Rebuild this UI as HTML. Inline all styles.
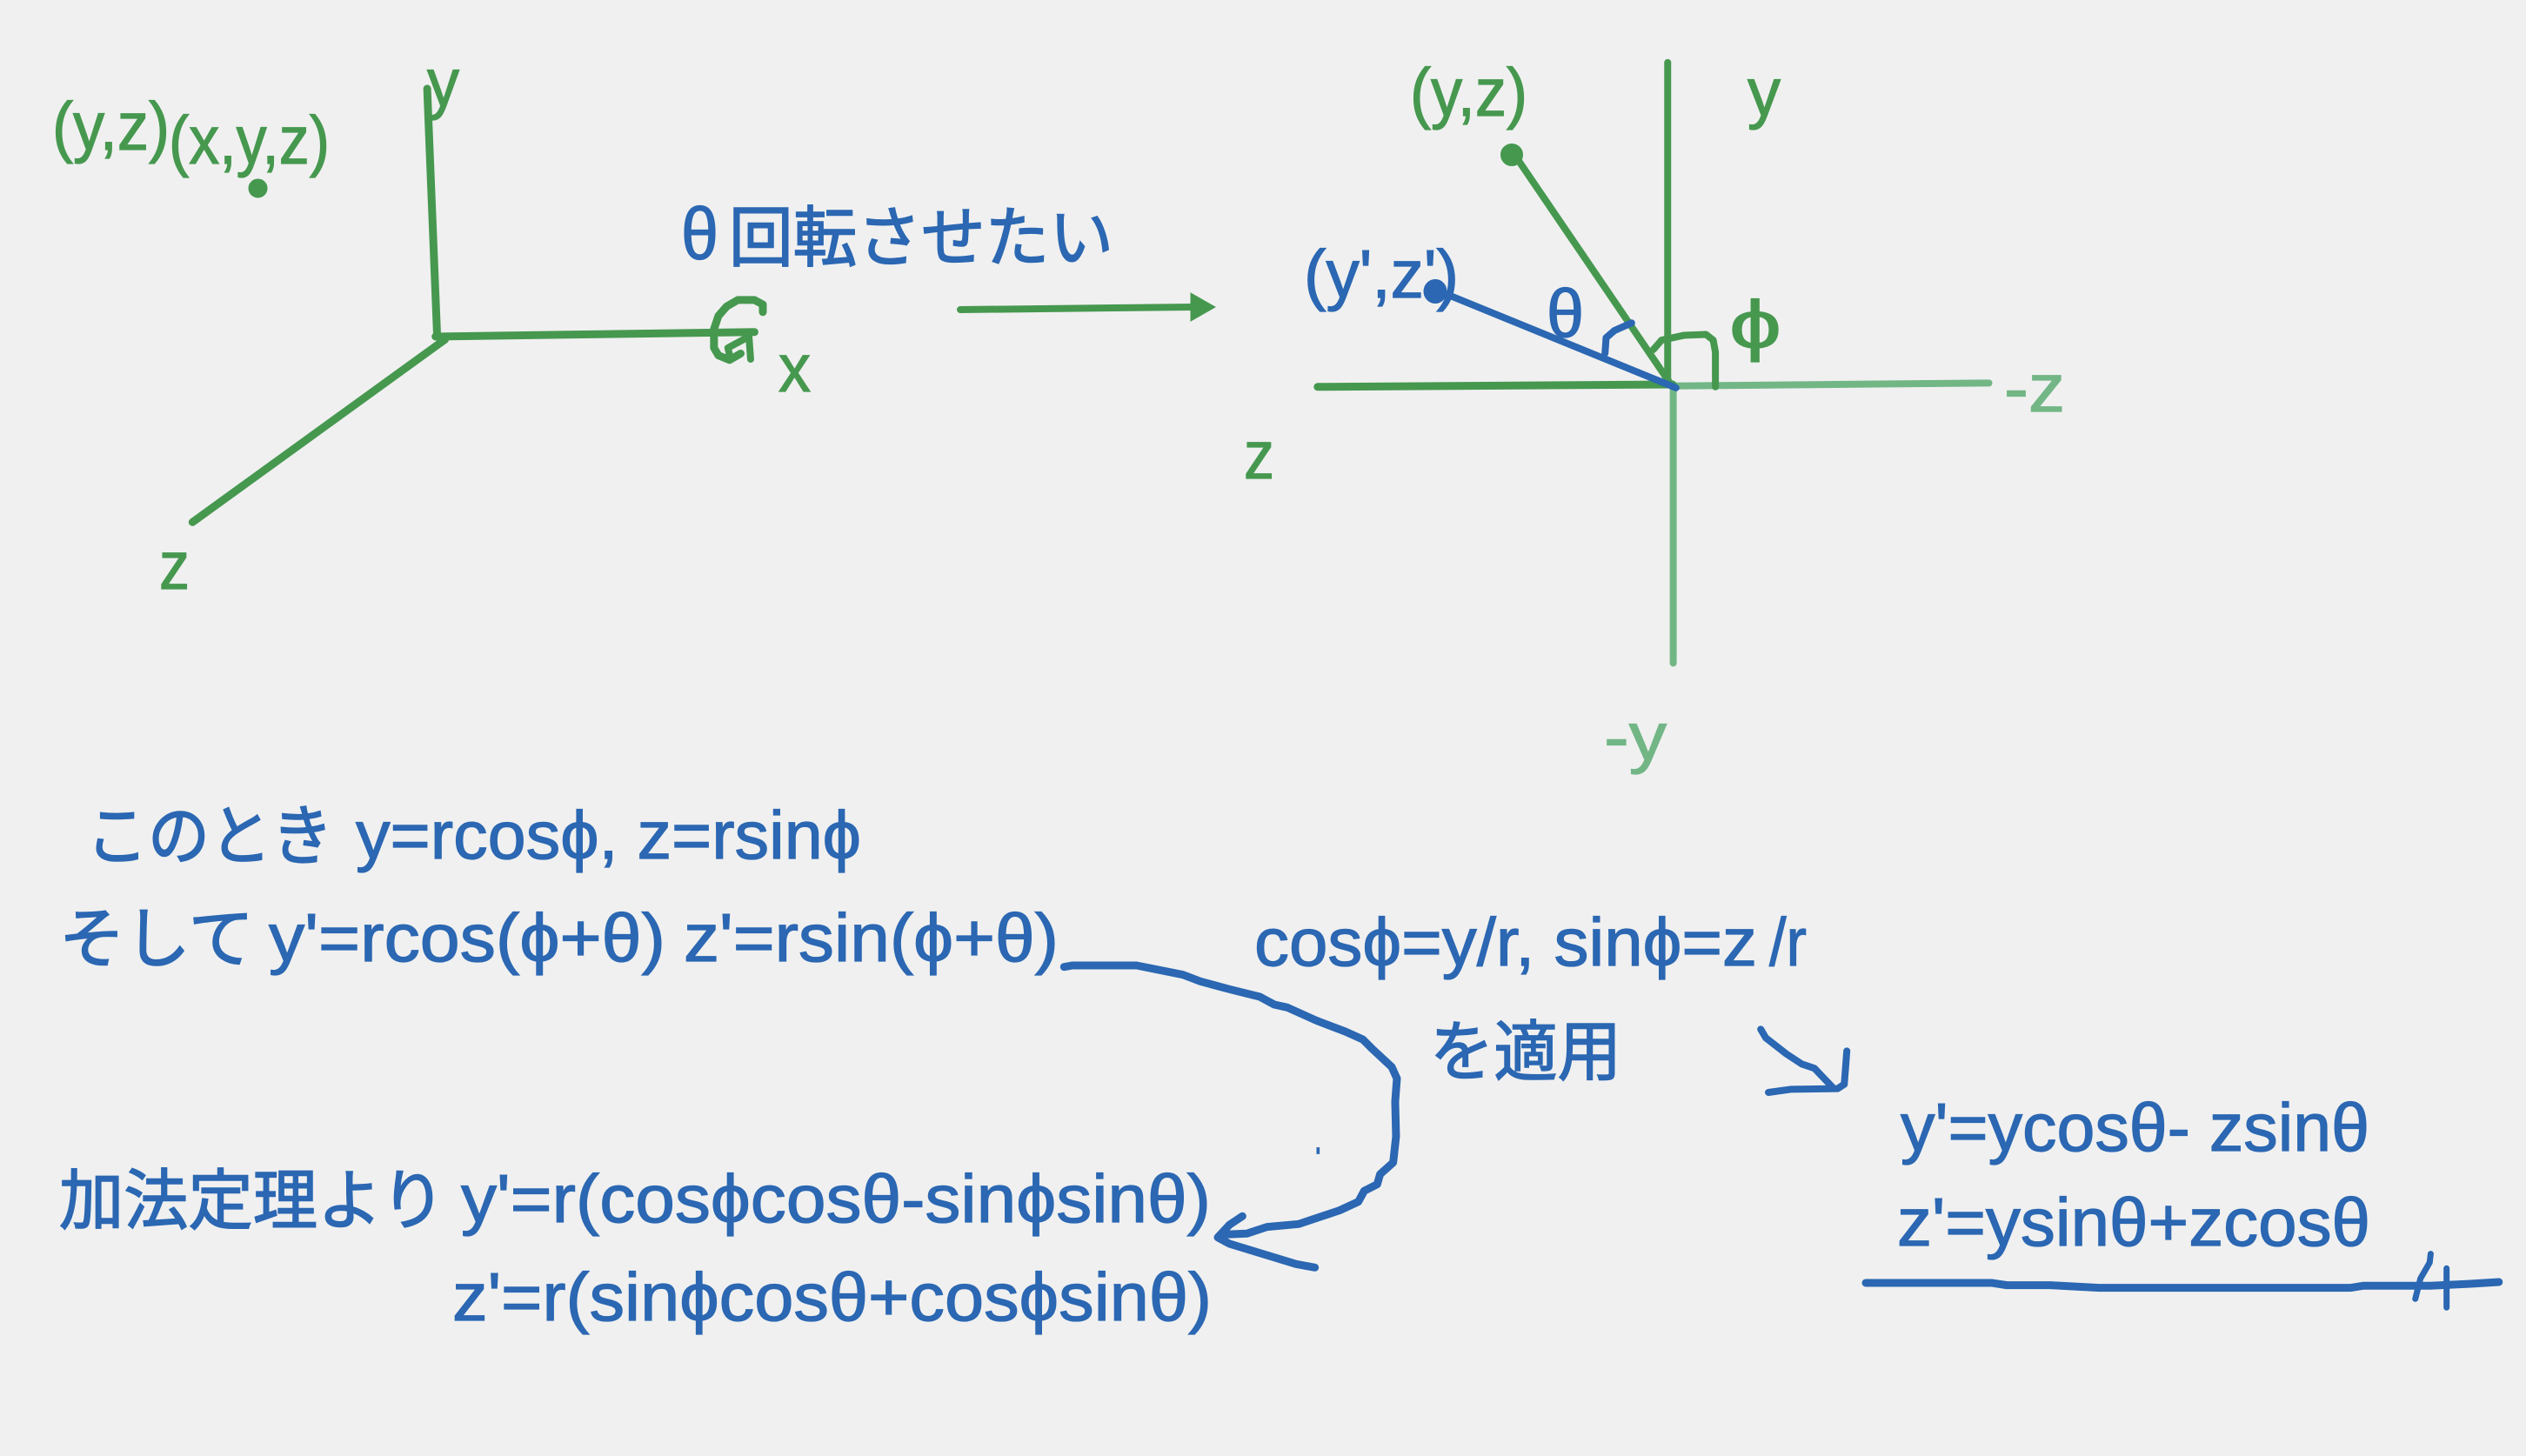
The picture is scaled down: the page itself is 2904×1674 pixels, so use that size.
<!DOCTYPE html>
<html><head><meta charset="utf-8">
<style>
html,body{margin:0;padding:0;background:#f0f0f0;width:2904px;height:1674px;overflow:hidden}
svg{display:block}
text{font-family:"Liberation Sans","Noto Sans CJK JP",sans-serif;font-size:78px;stroke-width:1.2px}
.g{fill:#46984f;stroke:#46984f}.b{fill:#2b67b2;stroke:#2b67b2}.l{fill:#72b686;stroke:#72b686}
text.j{font-family:"Noto Sans CJK JP","Liberation Sans",sans-serif;font-size:76px;stroke-width:1.6px}
path,line,polyline{fill:none;stroke-linecap:round;stroke-linejoin:round;vector-effect:non-scaling-stroke}
.sg{stroke:#46984f}.sb{stroke:#2b67b2}.sl{stroke:#72b686}
</style></head><body>
<svg xmlns="http://www.w3.org/2000/svg" width="2904" height="1674" viewBox="0 0 2904 1674">
<rect width="2904" height="1674" fill="#f0f0f0"/>

<!-- Left axes -->
<g transform="translate(0,40) scale(.6378,.4337)">
<polyline class="sg" stroke-width="9" points="770,143 788,800"/>
<polyline class="sg" stroke-width="9" points="802,808 347,1292"/>
<polyline class="sg" stroke-width="9" points="785,800 1360,788"/>
<polyline class="sg" stroke-width="9" points="1375,735 1375,715 1360,703 1330,703 1310,720 1295,745 1287,780 1287,830 1295,850 1315,862 1335,845"/>
<polyline class="sg" stroke-width="8" points="1315,848 1312,830 1350,800 1353,860"/>
</g>
<ellipse cx="296.5" cy="216.5" rx="10.5" ry="10.5" class="g"/>
<text class="g" x="491" y="122" textLength="37" lengthAdjust="spacingAndGlyphs">y</text>
<text class="g" x="60" y="172" textLength="135" lengthAdjust="spacingAndGlyphs">(y,z)</text>
<text class="g" x="194" y="188" textLength="185" lengthAdjust="spacingAndGlyphs">(x,y,z)</text>
<text class="g" x="895" y="450" textLength="37" lengthAdjust="spacingAndGlyphs">x</text>
<text class="g" x="183" y="677" textLength="35" lengthAdjust="spacingAndGlyphs">z</text>

<!-- Title + arrow -->
<text class="b" x="783" y="298" textLength="43" lengthAdjust="spacingAndGlyphs" style="font-size:84px">θ</text>
<text class="b j" x="838" y="300" textLength="442" lengthAdjust="spacingAndGlyphs">回転させたい</text>
<line class="sg" stroke-width="8" x1="1104" y1="356" x2="1372" y2="353"/>
<polygon class="g" points="1369,337 1397,353 1369,369"/>

<!-- Right axes -->
<g transform="translate(1400,40) scale(.6378,.5485)">
<polyline class="sl" stroke-width="8" points="820,736 1390,730"/>
<polyline class="sl" stroke-width="8" points="821,740 821,1317"/>
<polyline class="sg" stroke-width="8" points="811,58 811,730"/>
<polyline class="sg" stroke-width="9" points="180,738 820,733"/>
<polyline class="sg" stroke-width="8" points="540,260 815,730"/>
<polyline class="sg" stroke-width="8" points="785,660 800,640 840,630 880,628 893,640 897,665 897,738"/>
<polyline class="sb" stroke-width="8" points="415,545 826,740"/>
<polyline class="sb" stroke-width="8" points="746,604 715,620 700,635 698,668"/>
</g>
<circle cx="1738" cy="178" r="12.5" class="g"/>
<ellipse cx="1650" cy="335" rx="13" ry="13.5" class="b"/>
<text class="g" x="1621" y="133" textLength="135" lengthAdjust="spacingAndGlyphs">(y,z)</text>
<text class="g" x="2009" y="133" textLength="38" lengthAdjust="spacingAndGlyphs">y</text>
<text class="b" x="1499" y="342" textLength="178" lengthAdjust="spacingAndGlyphs">(y',z')</text>
<text class="b" x="1778" y="387" textLength="43" lengthAdjust="spacingAndGlyphs">θ</text>
<text class="g" x="1988" y="400" textLength="60" lengthAdjust="spacingAndGlyphs">ϕ</text>
<text class="l" x="2304" y="473" textLength="70" lengthAdjust="spacingAndGlyphs">-z</text>
<text class="g" x="1430" y="550" textLength="35" lengthAdjust="spacingAndGlyphs">z</text>
<text class="l" x="1844" y="874" textLength="72" lengthAdjust="spacingAndGlyphs">-y</text>

<!-- Equations -->
<text class="b j" x="99" y="988" textLength="284" lengthAdjust="spacingAndGlyphs">このとき</text>
<text class="b" x="409" y="987" textLength="581" lengthAdjust="spacingAndGlyphs">y=rcosϕ, z=rsinϕ</text>
<text class="b j" x="68" y="1106" textLength="224" lengthAdjust="spacingAndGlyphs">そして</text>
<text class="b" x="309" y="1105" textLength="456" lengthAdjust="spacingAndGlyphs">y'=rcos(ϕ+θ)</text>
<text class="b" x="786" y="1105" textLength="431" lengthAdjust="spacingAndGlyphs">z'=rsin(ϕ+θ)</text>
<text class="b j" x="68" y="1407" textLength="444" lengthAdjust="spacingAndGlyphs">加法定理より</text>
<text class="b" x="530" y="1405" textLength="862" lengthAdjust="spacingAndGlyphs">y'=r(cosϕcosθ-sinϕsinθ)</text>
<text class="b" x="520" y="1518" textLength="873" lengthAdjust="spacingAndGlyphs">z'=r(sinϕcosθ+cosϕsinθ)</text>
<text class="b" x="1442" y="1110" textLength="578" lengthAdjust="spacingAndGlyphs">cosϕ=y/r, sinϕ=z</text>
<text class="b" x="2034" y="1110" textLength="43" lengthAdjust="spacingAndGlyphs">/r</text>
<text class="b j" x="1644" y="1236" textLength="220" lengthAdjust="spacingAndGlyphs">を適用</text>
<text class="b" x="2185" y="1323" textLength="539" lengthAdjust="spacingAndGlyphs">y'=ycosθ- zsinθ</text>
<text class="b" x="2181" y="1432" textLength="544" lengthAdjust="spacingAndGlyphs">z'=ysinθ+zcosθ</text>

<!-- Big hand-drawn arrow -->
<g transform="translate(1200,1060) scale(.3333)">
<polyline class="sb" stroke-width="9" points="70,155 100,150 320,150 480,182 540,205 640,232 745,258 795,285 840,295 940,340 1040,378 1100,405 1130,435 1200,500 1218,540 1212,620 1215,740 1205,830 1160,870 1150,905 1105,928 1085,965 1020,995 930,1025 880,1042 770,1052 700,1075 630,1078"/>
<polyline class="sb" stroke-width="9" points="685,1015 640,1045 600,1088 640,1110 870,1180 935,1192"/>
<rect x="941" y="778" width="10" height="22" class="b"/>
</g>

<!-- Right arrow + underline -->
<g transform="translate(1980,1150) scale(.5893,.3333)">
<polyline class="sb" stroke-width="8" points="75,100 85,130 125,185 155,220 180,235 215,300"/>
<polyline class="sb" stroke-width="8" points="90,318 135,307 225,305 238,290 243,175"/>
<polyline class="sb" stroke-width="9" points="280,975 525,975 555,983 640,983 735,992 1225,992 1250,985 1380,985 1460,978 1515,972"/>
<polyline class="sb" stroke-width="7" points="1382,875 1380,905 1362,960 1352,1030"/>
<polyline class="sb" stroke-width="7" points="1413,925 1413,1060"/>
</g>
</svg>
</body></html>
